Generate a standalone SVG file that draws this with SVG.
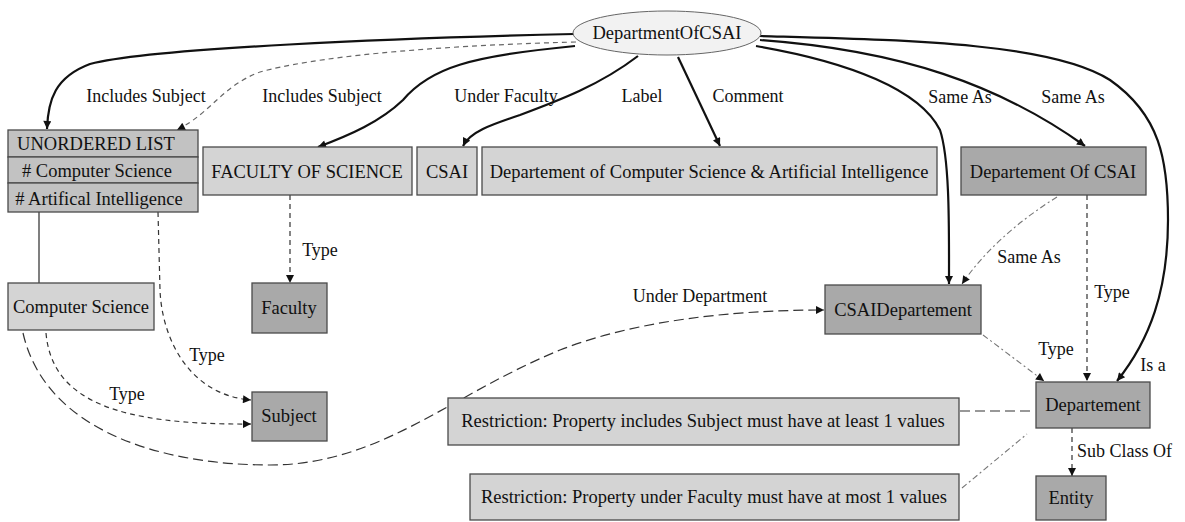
<svg xmlns="http://www.w3.org/2000/svg" width="1185" height="522" viewBox="0 0 1185 522">
<defs>
<style>
text{font-family:"Liberation Serif","Times New Roman",serif;font-size:18.5px;fill:#111}
.c{text-anchor:middle}
.lab{font-size:18px}
.box{stroke:#4a4a4a;stroke-width:1.3}
.lt{fill:#d4d4d4}
.dk{fill:#a9a9a9}
.md{fill:#c2c2c2}
.e{fill:none}
.bold{stroke:#111;stroke-width:2.2}
.dash{stroke:#333;stroke-width:1.2;stroke-dasharray:5 4}
.gdash{stroke:#666;stroke-width:1.2;stroke-dasharray:5 4}
.ldash{stroke:#333;stroke-width:1.2;stroke-dasharray:10 5}
.dd{stroke:#777;stroke-width:1.1;stroke-dasharray:6 3 2 3}
</style>
<marker id="arr" viewBox="0 0 10 10" refX="10" refY="5" markerWidth="10" markerHeight="8" markerUnits="userSpaceOnUse" orient="auto"><path d="M0,0 L10,5 L0,10 z" fill="#111"/></marker>
</defs>
<rect width="1185" height="522" fill="#ffffff"/>
<g id="connectors">
<path class="e bold" d="M 574,34 C 400,38 150,48 90,64 C 55,77 48,100 47,129" marker-end="url(#arr)"/>
<path class="e gdash" d="M 576,42 C 420,46 310,58 260,72 C 222,86 212,112 177,130" marker-end="url(#arr)"/>
<path class="e bold" d="M 575,46 C 470,56 430,68 403,100 C 380,122 350,135 318,147" marker-end="url(#arr)"/>
<path class="e bold" d="M 638,56 C 600,85 560,100 520,115 C 490,125 470,132 463,146" marker-end="url(#arr)"/>
<path class="e bold" d="M 678,57 L 720,146" marker-end="url(#arr)"/>
<path class="e bold" d="M 756,46 C 850,62 920,90 940,130 C 950,160 949,230 949,284" marker-end="url(#arr)"/>
<path class="e bold" d="M 760,40 C 900,50 1000,85 1085,146" marker-end="url(#arr)"/>
<path class="e bold" d="M 760,36 C 900,40 1050,42 1110,80 C 1160,115 1168,160 1168,220 C 1168,290 1150,340 1117,381" marker-end="url(#arr)"/>
<path class="e" stroke="#555" stroke-width="1.5" d="M 39,212 L 39,283"/>
<path class="e dash" d="M 158,212 L 160,290 C 162,340 190,395 251,400" marker-end="url(#arr)"/>
<path class="e dash" d="M 46,333 C 52,402 120,425 251,424" marker-end="url(#arr)"/>
<path class="e ldash" d="M 23,333 C 45,430 160,465 270,465 C 380,465 450,395 560,350 C 650,315 760,310 824,310" marker-end="url(#arr)"/>
<path class="e dash" d="M 290,195 L 290,283" marker-end="url(#arr)"/>
<path class="e dd" d="M 1057,197 C 1020,220 985,250 962,284" marker-end="url(#arr)"/>
<path class="e dash" d="M 1087,195 L 1087,381" marker-end="url(#arr)"/>
<path class="e dd" d="M 983,335 L 1044,381" marker-end="url(#arr)"/>
<path class="e ldash" d="M 960,411 L 1035,411"/>
<path class="e dd" d="M 962,488 L 1027,434"/>
<path class="e dash" d="M 1072,428 L 1072,476" marker-end="url(#arr)"/>
<text class="c lab" x="146" y="102">Includes Subject</text>
<text class="c lab" x="322" y="102">Includes Subject</text>
<text class="c lab" x="506" y="102">Under Faculty</text>
<text class="c lab" x="642" y="102">Label</text>
<text class="c lab" x="748" y="102">Comment</text>
<text class="c lab" x="960" y="103">Same As</text>
<text class="c lab" x="1073" y="103">Same As</text>
<text class="c lab" x="320" y="256">Type</text>
<text class="c lab" x="207" y="361">Type</text>
<text class="c lab" x="127" y="400">Type</text>
<text class="c lab" x="700" y="302">Under Department</text>
<text class="c lab" x="1029" y="263">Same As</text>
<text class="c lab" x="1112" y="298">Type</text>
<text class="c lab" x="1056" y="355">Type</text>
<text class="c lab" x="1153" y="371">Is a</text>
<text class="lab" x="1077" y="457">Sub Class Of</text>
</g>
<g id="DepartmentOfCSAI">
<ellipse cx="667" cy="33" rx="94" ry="22" fill="#f2f2f2" stroke="#666" stroke-width="1"/>
<text class="c" x="667" y="39">DepartmentOfCSAI</text>
</g>
<g id="UnorderedList">
<rect class="box md" x="8" y="130" width="190" height="27"/>
<rect class="box md" x="8" y="157" width="190" height="26"/>
<rect class="box md" x="8" y="183" width="190" height="29"/>
<text class="c" x="96" y="150">UNORDERED LIST</text>
<text class="c" x="97" y="177"># Computer Science</text>
<text class="c" x="99" y="205"># Artifical Intelligence</text>
</g>
<g id="FacultyOfScience">
<rect class="box lt" x="203" y="147" width="209" height="48"/>
<text class="c" x="307" y="178">FACULTY OF SCIENCE</text>
</g>
<g id="CSAI">
<rect class="box lt" x="417" y="147" width="60" height="48"/>
<text class="c" x="447" y="178">CSAI</text>
</g>
<g id="DeptComment">
<rect class="box lt" x="482" y="147" width="455" height="48"/>
<text class="c" x="709" y="178">Departement of Computer Science &amp; Artificial Intelligence</text>
</g>
<g id="DepartementOfCSAI">
<rect class="box dk" x="961" y="147" width="185" height="48"/>
<text class="c" x="1053" y="178">Departement Of CSAI</text>
</g>
<g id="ComputerScience">
<rect class="box lt" x="8" y="283" width="146" height="47"/>
<text class="c" x="81" y="313">Computer Science</text>
</g>
<g id="Faculty">
<rect class="box dk" x="252" y="283" width="75" height="50"/>
<text class="c" x="289" y="314">Faculty</text>
</g>
<g id="Subject">
<rect class="box dk" x="252" y="392" width="75" height="49"/>
<text class="c" x="289" y="422">Subject</text>
</g>
<g id="CSAIDepartement">
<rect class="box dk" x="825" y="285" width="156" height="49"/>
<text class="c" x="903" y="316">CSAIDepartement</text>
</g>
<g id="Departement">
<rect class="box dk" x="1036" y="382" width="114" height="46"/>
<text class="c" x="1093" y="411">Departement</text>
</g>
<g id="Restriction1">
<rect class="box lt" x="448" y="398" width="511" height="47"/>
<text class="c" x="703" y="427">Restriction: Property includes Subject must have at least 1 values</text>
</g>
<g id="Restriction2">
<rect class="box lt" x="470" y="474" width="489" height="46"/>
<text class="c" x="714" y="503">Restriction: Property under Faculty must have at most 1 values</text>
</g>
<g id="Entity">
<rect class="box dk" x="1036" y="476" width="70" height="44"/>
<text class="c" x="1071" y="504">Entity</text>
</g>
</svg>
